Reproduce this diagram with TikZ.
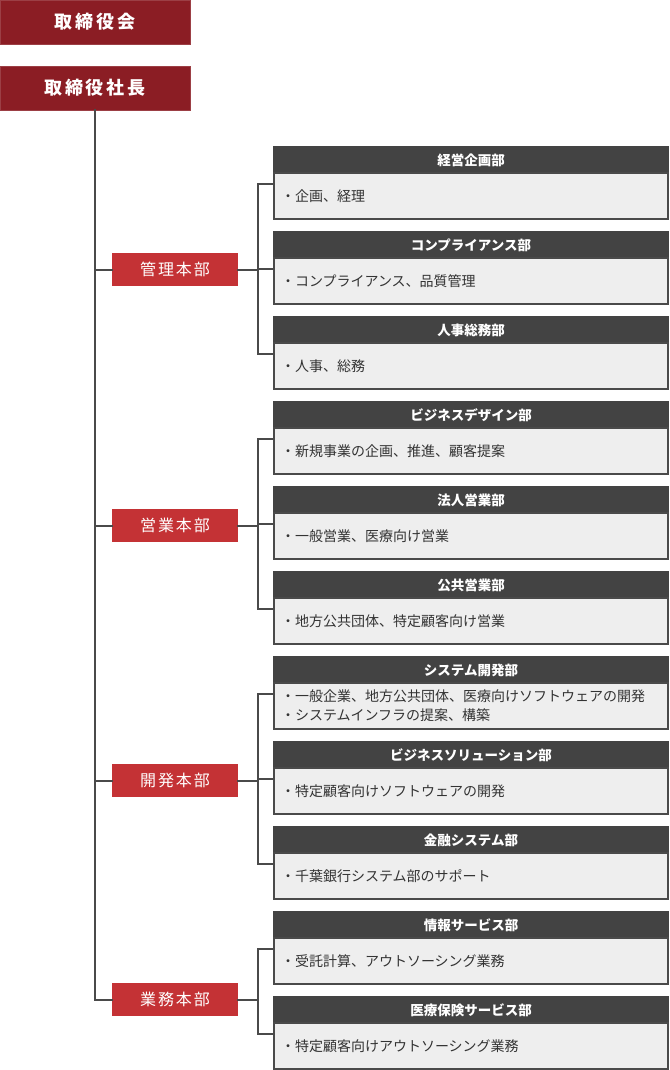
\documentclass[tikz,border=0pt]{standalone}
\usepackage{fontspec}
\setmainfont{Noto Sans CJK JP}
\newfontfamily\execfont[LetterSpace=16]{Noto Sans CJK JP}
\newfontfamily\divfont[LetterSpace=12]{Noto Sans CJK JP}
\usepackage{xcolor}
\usetikzlibrary{positioning, calc}

\definecolor{boardred}{HTML}{8B1D24}
\definecolor{divred}{HTML}{C43235}
\definecolor{headgray}{HTML}{434343}
\definecolor{bodygray}{HTML}{EEEEEE}
\definecolor{linegray}{HTML}{4A4A4A}

\begin{document}
\begin{tikzpicture}[
    x=1pt, y=-1pt,
    execbox/.style={fill=boardred, draw=boardred!85!white, minimum width=190pt, minimum height=44pt,
        inner sep=0pt, outer sep=0pt, anchor=north west, text=white,
        font=\execfont\bfseries\fontsize{18}{18}\selectfont},
    divbox/.style={fill=divred, minimum width=126pt, minimum height=33pt, inner sep=0pt,
        outer sep=0pt, anchor=west, text=white, font=\divfont\fontsize{16}{16}\selectfont},
    depthead/.style={fill=headgray, draw=headgray, line width=1.5pt, minimum width=394pt,
        minimum height=26pt, inner sep=0pt, outer sep=0pt, anchor=north west, text=white,
        font=\bfseries\fontsize{13.5}{13.5}\selectfont},
    deptbody/.style={fill=bodygray, draw=linegray, line width=1.5pt, below=0pt of #1,
        minimum width=394pt, minimum height=46pt, text width=380pt, align=left,
        inner xsep=7pt, inner ysep=0pt, outer sep=0pt, text=black!80,
        font=\fontsize{14}{19}\selectfont},
    conn/.style={draw=linegray, line width=2pt, line cap=rect}
]
    \useasboundingbox (0,0) rectangle (669,1070);

    % Board and president
    \node[execbox] (board) at (0,0)  {取締役会};
    \node[execbox] (pres)  at (0,66) {取締役社長};

    % Divisions
    \node[divbox] (div1) at (112,269.5) {管理本部};
    \node[divbox] (div2) at (112,525.5) {営業本部};
    \node[divbox] (div3) at (112,780.5) {開発本部};
    \node[divbox] (div4) at (112,999.5) {業務本部};

    % Departments of 管理本部
    \node[depthead] (hd1) at (274,147) {経営企画部};
    \node[deptbody=hd1] (bd1) {・企画、経理};
    \node[depthead] (hd2) at (274,232) {コンプライアンス部};
    \node[deptbody=hd2] (bd2) {・コンプライアンス、品質管理};
    \node[depthead] (hd3) at (274,317) {人事総務部};
    \node[deptbody=hd3] (bd3) {・人事、総務};

    % Departments of 営業本部
    \node[depthead] (hd4) at (274,402) {ビジネスデザイン部};
    \node[deptbody=hd4] (bd4) {・新規事業の企画、推進、顧客提案};
    \node[depthead] (hd5) at (274,487) {法人営業部};
    \node[deptbody=hd5] (bd5) {・一般営業、医療向け営業};
    \node[depthead] (hd6) at (274,572) {公共営業部};
    \node[deptbody=hd6] (bd6) {・地方公共団体、特定顧客向け営業};

    % Departments of 開発本部
    \node[depthead] (hd7) at (274,657) {システム開発部};
    \node[deptbody=hd7] (bd7) {・一般企業、地方公共団体、医療向けソフトウェアの開発\\・システムインフラの提案、構築};
    \node[depthead] (hd8) at (274,742) {ビジネスソリューション部};
    \node[deptbody=hd8] (bd8) {・特定顧客向けソフトウェアの開発};
    \node[depthead] (hd9) at (274,827) {金融システム部};
    \node[deptbody=hd9] (bd9) {・千葉銀行システム部のサポート};

    % Departments of 業務本部
    \node[depthead] (hd10) at (274,912) {情報サービス部};
    \node[deptbody=hd10] (bd10) {・受託計算、アウトソーシング業務};
    \node[depthead] (hd11) at (274,997) {医療保険サービス部};
    \node[deptbody=hd11] (bd11) {・特定顧客向けアウトソーシング業務};

    % Trunk from the president down to the divisions
    \draw[conn] (pres.south) |- (div4.west);
    \foreach \d in {div1, div2, div3}
        \draw[conn] (pres.south |- \d.west) -- (\d.west);

    % Stubs into each department
    \foreach \i in {1,...,11} {
        \coordinate (c\i) at ($(hd\i.north west)+(0,37)$);
        \coordinate (j\i) at ($(c\i)+(-16,0)$);
        \draw[conn] (j\i) -- (c\i);
    }

    % Brackets per division
    \draw[conn] (j1) -- (j3);
    \draw[conn] (j4) -- (j6);
    \draw[conn] (j7) -- (j9);
    \draw[conn] (j10) -- (j11);
    \draw[conn] (div1.east) -- (div1.east -| j1);
    \draw[conn] (div2.east) -- (div2.east -| j4);
    \draw[conn] (div3.east) -- (div3.east -| j7);
    \draw[conn] (div4.east) -- (div4.east -| j10);
\end{tikzpicture}
\end{document}
